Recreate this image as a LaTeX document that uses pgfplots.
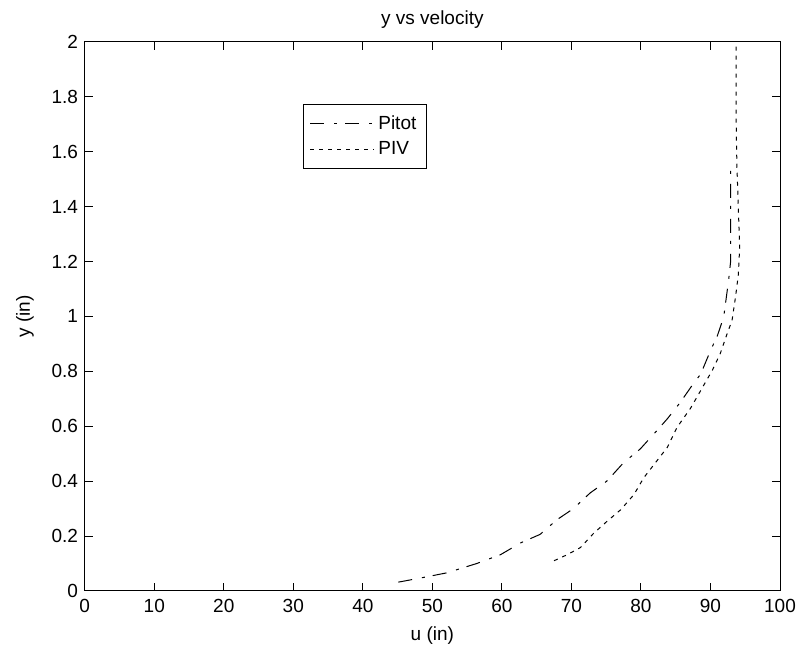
\documentclass[border=0pt]{standalone}
\usepackage{fontspec}
\setmainfont{Liberation Sans}
\usepackage{pgfplots}
\pgfplotsset{compat=1.18}
\begin{document}
\fontsize{9.5}{11}\selectfont
\begin{tikzpicture}
\begin{axis}[
  name=ax,
  scale only axis,
  width=347.5pt, height=274.5pt,
  xmin=0, xmax=100, ymin=0, ymax=2,
  xtick={0,10,...,100},
  ytick={0,0.2,...,2.01},
  /pgf/number format/assume math mode=true,
  yticklabel style={/pgf/number format/fixed},
  tick align=inside,
  major tick length=4pt,
  tick style={black, line width=0.5pt},
  axis line style={line width=0.5pt},
  xticklabel style={yshift=-1pt},
  title={y vs velocity},
  every axis title/.style={at={(axis description cs:0.5,1)}, anchor=base, yshift=8.5pt},
  xlabel={u (in)},
  ylabel={y (in)},
  every axis x label/.style={at={(axis description cs:0.5,0)}, anchor=base, yshift=-25pt},
  every axis y label/.style={at={(axis description cs:-0.0859,0.5)}, rotate=90, anchor=center},
  legend style={at={(0.3145,0.8865)}, anchor=north west, draw=black, line width=0.5pt,
    font=\fontsize{9.5}{11}\selectfont, inner xsep=3pt, inner ysep=3.5pt, row sep=0.5pt},
  legend cell align=left,
  legend image code/.code={\draw[#1] (3.5pt,0pt) -- (35.2pt,0pt);},
]
\addplot[black, line width=0.5pt, dash pattern=on 7pt off 5pt on 1.5pt off 4pt] coordinates {
(45.1,0.032) (48.5,0.048) (52.1,0.066) (56.4,0.100) (59.8,0.132) (62.7,0.175)
(65.5,0.206) (67.9,0.259) (70.3,0.300) (72.7,0.357) (75.1,0.400) (77.5,0.467)
(79.9,0.517) (82.3,0.584) (83.8,0.627) (85.7,0.688) (87.4,0.750) (88.6,0.790)
(90.0,0.875) (91.0,0.930) (91.9,0.997) (92.6,1.13) (92.9,1.20) (92.9,1.35) (92.9,1.534)
};
\addlegendentry{Pitot}
\addplot[black, line width=0.5pt, dash pattern=on 2pt off 2.5pt] coordinates {
(67.5,0.110) (69.4,0.132) (71.3,0.158) (73.2,0.210) (75.1,0.253) (77.1,0.296)
(79.0,0.351) (80.4,0.412) (82.3,0.474) (83.8,0.523) (85.2,0.596) (87.1,0.664)
(88.6,0.730) (89.5,0.770) (90.2,0.800) (91.4,0.864) (92.4,0.937) (93.1,0.985)
(93.6,1.07) (94.0,1.15) (94.2,1.25) (94.0,1.40) (93.8,1.55) (93.7,1.70) (93.7,2.0)
};
\addlegendentry{PIV}
\end{axis}
\pgfresetboundingbox
\path[use as bounding box] ([shift={(-42.35pt,-31.65pt)}]ax.south west) rectangle ([shift={(10.5pt,20.85pt)}]ax.north east);
\end{tikzpicture}
\end{document}
